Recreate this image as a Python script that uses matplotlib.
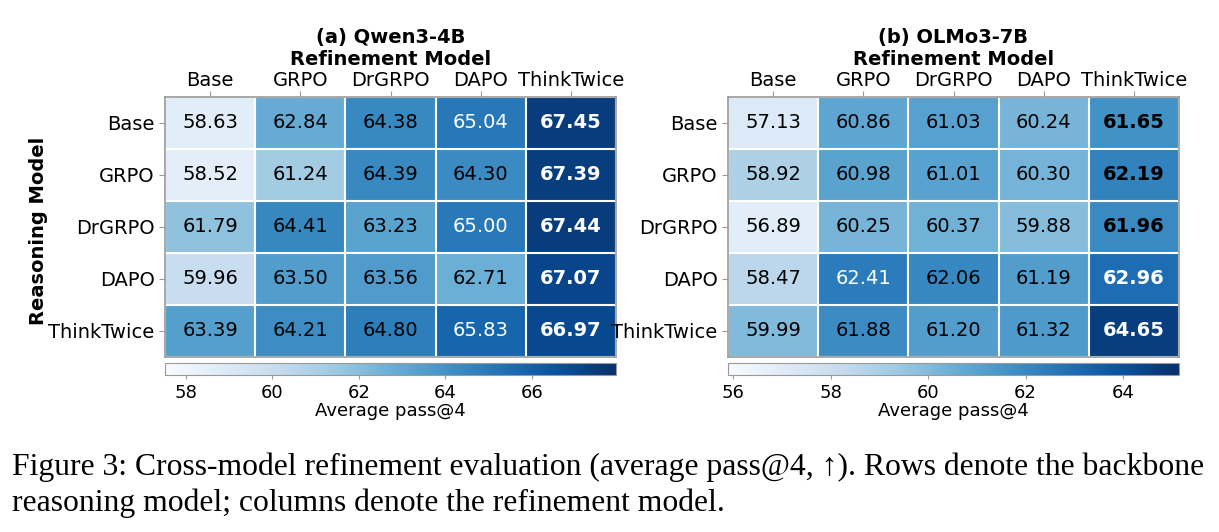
import numpy as np
import matplotlib
matplotlib.use("Agg")
import matplotlib.pyplot as plt
from matplotlib.colors import Normalize

models = ["Base", "GRPO", "DrGRPO", "DAPO", "ThinkTwice"]
titles = ["(a) Qwen3-4B", "(b) OLMo3-7B"]

qwen_values = [
    [58.63, 62.84, 64.38, 65.04, 67.45],
    [58.52, 61.24, 64.39, 64.30, 67.39],
    [61.79, 64.41, 63.23, 65.00, 67.44],
    [59.96, 63.50, 63.56, 62.71, 67.07],
    [63.39, 64.21, 64.80, 65.83, 66.97],
]
olmo_values = [
    [57.13, 60.86, 61.03, 60.24, 61.65],
    [58.92, 60.98, 61.01, 60.30, 62.19],
    [56.89, 60.25, 60.37, 59.88, 61.96],
    [58.47, 62.41, 62.06, 61.19, 62.96],
    [59.99, 61.88, 61.20, 61.32, 64.65],
]
colorbar_label = "Average pass@4"
caption = ("Figure 3: Cross-model refinement evaluation (average pass@4, \u2191). Rows denote the backbone\n"
           "reasoning model; columns denote the refinement model.")

W, H = 1219, 532
fig = plt.figure(figsize=(W / 100, H / 100), dpi=100)

def px(x0, y0, x1, y1):
    return [x0 / W, 1 - y1 / H, (x1 - x0) / W, (y1 - y0) / H]

panels = [
    (qwen_values, px(165, 97, 616, 357), px(165, 363, 616, 375), titles[0]),
    (olmo_values, px(728, 97, 1179, 357), px(728, 363, 1179, 375), titles[1]),
]

edge = "#999999"
for idx, (vals, axpos, cbpos, title) in enumerate(panels):
    data = np.array(vals)
    vmin, vmax = data.min() - 1.0, data.max() + 0.5
    norm = Normalize(vmin=vmin, vmax=vmax)
    ax = fig.add_axes(axpos)
    im = ax.imshow(data, cmap="Blues", norm=norm, aspect="auto")
    n_r, n_c = data.shape
    ax.set_xticks(range(n_c))
    ax.set_xticklabels(models, fontsize=14)
    ax.set_yticks(range(n_r))
    ax.set_yticklabels(models, fontsize=14)
    ax.xaxis.tick_top()
    ax.tick_params(axis="both", color=edge, length=4)
    ax.tick_params(axis="x", pad=1.0)
    ax.set_xticks(np.arange(-0.5, n_c, 1), minor=True)
    ax.set_yticks(np.arange(-0.5, n_r, 1), minor=True)
    ax.grid(which="minor", color="white", linewidth=1.5)
    ax.tick_params(which="minor", length=0)
    for s in ax.spines.values():
        s.set_edgecolor(edge)
        s.set_linewidth(1.2)
    for i in range(n_r):
        rmax = data[i].max()
        for j in range(n_c):
            v = data[i, j]
            col = "white" if norm(v) > 0.7 else "black"
            wt = "bold" if v == rmax else "normal"
            ax.text(j, i, f"{v:.2f}", ha="center", va="center",
                    fontsize=14, color=col, fontweight=wt)
    cx = axpos[0] + axpos[2] / 2
    fig.text(cx, 1 - 38 / H, title, ha="center", va="center",
             fontsize=14, fontweight="bold")
    fig.text(cx, 1 - 60 / H, "Refinement Model", ha="center", va="center",
             fontsize=14, fontweight="bold")
    if idx == 0:
        fig.text(39 / W, 1 - 231 / H, "Reasoning Model", rotation=90,
                 ha="center", va="center", fontsize=14, fontweight="bold")
    cax = fig.add_axes(cbpos)
    cb = fig.colorbar(im, cax=cax, orientation="horizontal")
    cb.outline.set_edgecolor(edge)
    cb.ax.tick_params(labelsize=13, color=edge, length=3)
    cb.set_label(colorbar_label, fontsize=13, labelpad=0)

fig.text(12 / W, 1 - 485 / H, caption, ha="left", va="center", fontsize=22.8,
         family=["Liberation Serif", "DejaVu Serif"], linespacing=1.3)

fig.savefig("out.png", dpi=100)
